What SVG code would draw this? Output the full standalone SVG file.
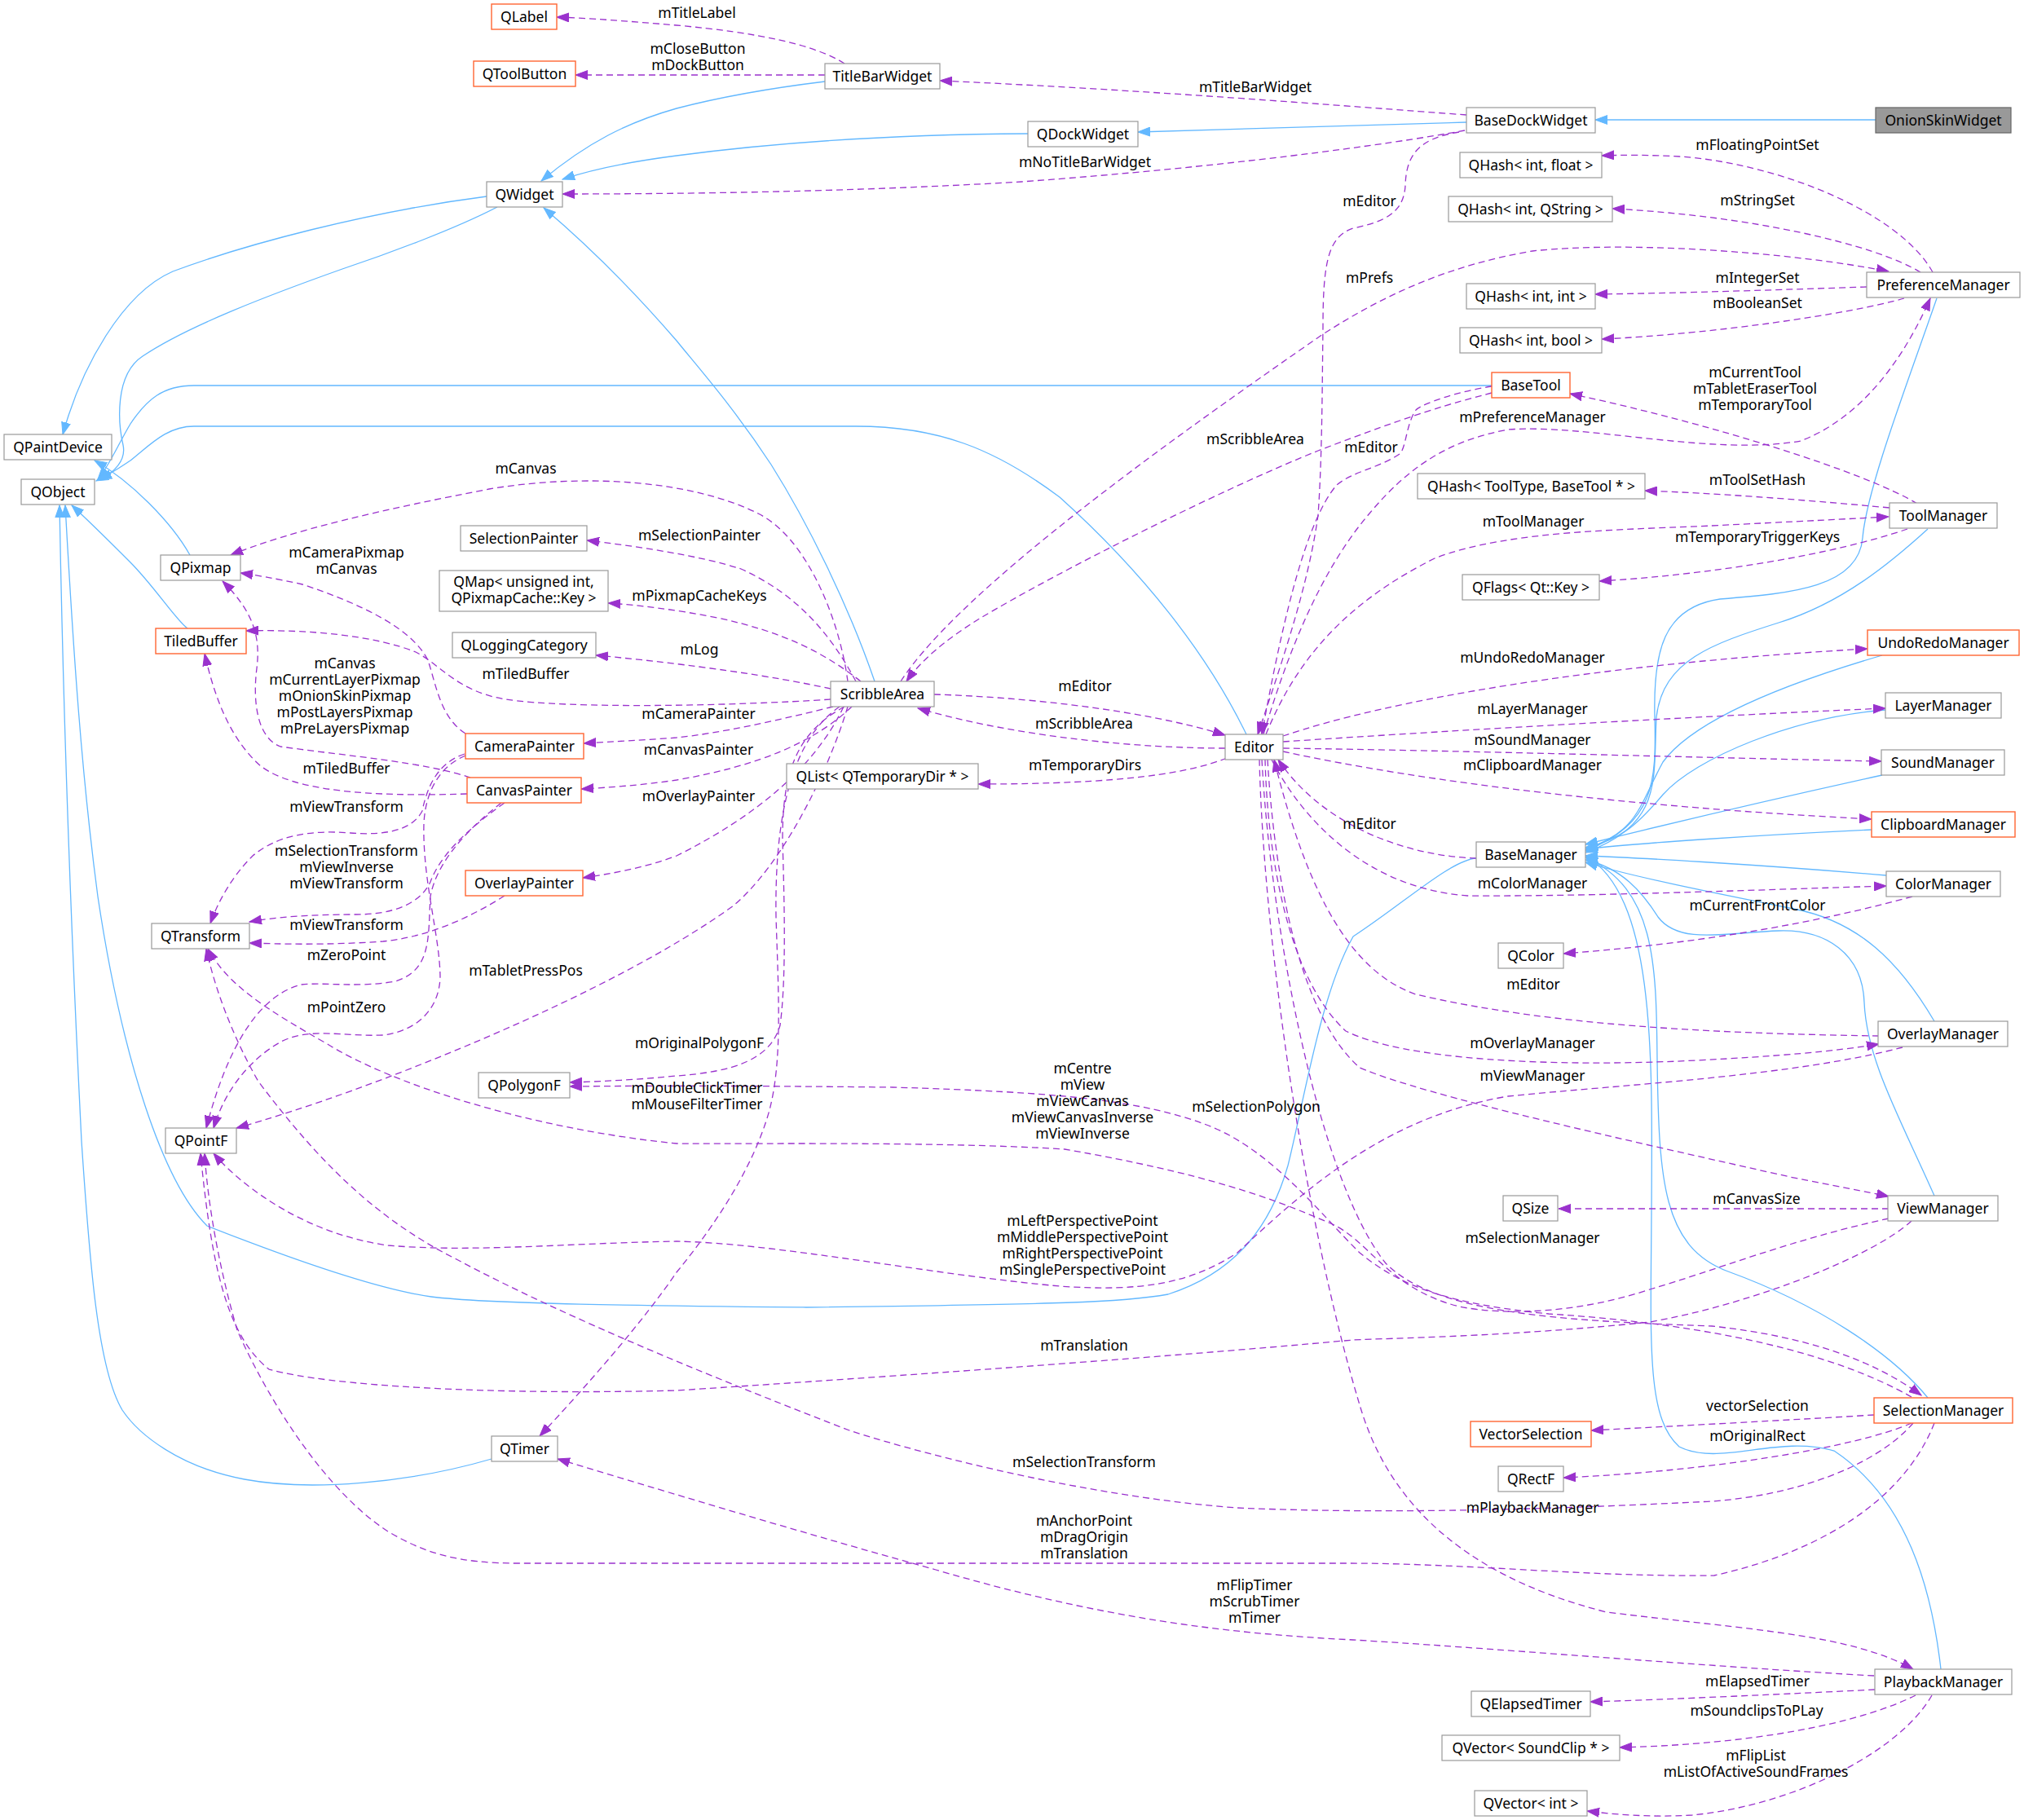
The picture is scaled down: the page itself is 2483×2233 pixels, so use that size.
<svg xmlns="http://www.w3.org/2000/svg" width="2483" height="2233" viewBox="0 0 2483 2233">
<style>
.n{fill:#fff;stroke:#999;stroke-width:1.2}
.r{fill:#fff;stroke:#ff6633;stroke-width:1.4}
.g{fill:#999;stroke:#666;stroke-width:1.2}
text{font-family:"Noto Sans","Open Sans","DejaVu Sans",sans-serif;font-size:17.5px;fill:#000;text-anchor:middle}
.e{fill:none;stroke:#9a32cd;stroke-width:1.3;stroke-dasharray:8,5;marker-end:url(#ap)}
.b{fill:none;stroke:#63b8ff;stroke-width:1.3;marker-end:url(#ab)}
</style>
<defs>
<marker id="ap" markerUnits="userSpaceOnUse" markerWidth="16" markerHeight="12" viewBox="0 0 16 12" refX="15" refY="6" orient="auto"><path d="M0,0.5 L15,6 L0,11.5 z" fill="#9a32cd" stroke="#9a32cd"/></marker>
<marker id="ab" markerUnits="userSpaceOnUse" markerWidth="16" markerHeight="12" viewBox="0 0 16 12" refX="15" refY="6" orient="auto"><path d="M0,0.5 L15,6 L0,11.5 z" fill="#63b8ff" stroke="#63b8ff"/></marker>
</defs>
<rect width="2483" height="2233" fill="#fff"/>
<g id="edges">
<!-- inheritance -->
<path class="b" d="M2301,147 L1957,147"/>
<path class="b" d="M1799,150 L1396,162"/>
<path class="b" d="M1261,164 C1100,165 950,175 830,191 C760,200 720,210 690,220"/>
<path class="b" d="M1012,100 C930,110 880,120 830,133 C770,150 720,175 664,222"/>
<path class="b" d="M597,241 C450,260 300,300 212,333 C150,360 100,450 77,533"/>
<path class="b" d="M610,254 C560,280 480,310 420,330 C330,362 230,400 175,437 C140,460 145,520 151,546 C155,565 140,580 122,588"/>
<path class="b" d="M1830,473 L238,473 C200,473 180,490 160,520 C145,545 135,570 120,588"/>
<path class="b" d="M1529,901 C1480,800 1400,700 1300,610 C1220,550 1150,523 1050,523 L238,523 C205,523 185,545 160,565 C145,575 135,582 118,590"/>
<path class="b" d="M233,681 C210,640 160,590 116,565"/>
<path class="b" d="M230,771 C215,760 190,720 159,689 C130,660 110,640 88,620"/>
<path class="b" d="M603,1790 C500,1820 380,1830 300,1815 C220,1800 170,1760 150,1730 C120,1680 110,1550 100,1400 C90,1200 78,900 73,620"/>
<path class="b" d="M1811,1053 C1780,1055 1720,1110 1660,1149 C1620,1220 1600,1350 1580,1430 C1560,1500 1520,1560 1433,1588 C1380,1598 1300,1600 989,1604 C800,1602 600,1600 529,1591 C450,1580 320,1530 254,1504 C200,1450 150,1300 120,1100 C100,950 90,800 80,620"/>
<path class="b" d="M1073,836 C1040,740 990,640 946,570 C900,500 860,455 830,418 C780,360 720,300 667,255"/>
<path class="b" d="M2376,366 C2340,470 2290,600 2285,660 C2280,720 2200,728 2110,735 C2040,745 2028,800 2030,880 C2032,960 2030,1010 1945,1044"/>
<path class="b" d="M2365,649 C2320,690 2260,740 2182,764 C2100,790 2040,810 2032,880 C2028,960 2040,1010 1945,1046"/>
<path class="b" d="M2309,804 C2200,836 2080,880 2040,935 C2010,990 2010,1020 1945,1042"/>
<path class="b" d="M2313,871 C2200,880 2080,930 2040,975 C2010,1010 1990,1030 1945,1040"/>
<path class="b" d="M2309,951 C2200,975 2050,1010 1945,1036"/>
<path class="b" d="M2296,1018 C2150,1025 2000,1035 1945,1042"/>
<path class="b" d="M2314,1074 C2150,1060 2000,1052 1945,1050"/>
<path class="b" d="M2373,1253 C2330,1180 2280,1130 2200,1115 C2100,1095 2000,1075 1945,1058"/>
<path class="b" d="M2373,1467 C2330,1370 2290,1300 2287,1230 C2285,1170 2240,1140 2182,1142 C2120,1144 2060,1160 2034,1125 C2015,1095 1990,1065 1945,1055"/>
<path class="b" d="M2365,1715 C2320,1660 2230,1600 2120,1560 C2040,1530 2035,1450 2033,1300 C2032,1180 2030,1090 1945,1052"/>
<path class="b" d="M2381,2048 C2370,1950 2340,1840 2250,1780 C2180,1760 2110,1800 2060,1775 C2020,1740 2025,1650 2026,1490 C2027,1300 2032,1100 1945,1050"/>
<!-- usage -->
<path class="e" d="M1036,78 C1000,55 930,40 830,31 C770,26 720,22 683,21"/>
<path class="e" d="M1012,92 L706,92"/>
<path class="e" d="M1799,141 C1650,130 1400,110 1153,99"/>
<path class="e" d="M1797,160 C1700,178 1500,205 1253,223 C1050,235 850,238 690,238"/>
<path class="e" d="M1790,162 C1740,170 1725,190 1724,228 C1722,260 1700,272 1660,280 C1630,290 1623,320 1623,400 C1622,480 1622,560 1617,632 C1605,720 1570,820 1543,901"/>
<path class="e" d="M2371,334 C2330,260 2180,200 2060,192 C2020,190 1990,190 1965,191"/>
<path class="e" d="M2356,334 C2300,300 2150,265 1978,256"/>
<path class="e" d="M2290,352 C2200,355 2050,360 1957,361"/>
<path class="e" d="M2336,366 C2270,385 2100,410 1965,416"/>
<path class="e" d="M1105,836 C1180,720 1450,530 1620,412 C1700,360 1780,325 1880,308 C2000,295 2200,310 2317,333"/>
<path class="e" d="M1040,836 C1030,760 990,660 930,630 C850,590 720,580 600,600 C470,625 360,650 283,681"/>
<path class="e" d="M1050,836 C1020,780 980,730 909,698 C860,682 780,670 720,663"/>
<path class="e" d="M1056,836 C1010,800 960,775 880,758 C830,748 780,742 746,740"/>
<path class="e" d="M1019,845 C950,830 850,815 731,804"/>
<path class="e" d="M1019,858 C900,866 700,870 620,858 C560,848 540,815 510,800 C460,780 380,772 302,774"/>
<path class="e" d="M1022,867 C950,885 880,900 830,905 C790,908 750,910 716,912"/>
<path class="e" d="M1045,867 C1000,910 930,940 830,957 C790,963 750,966 713,968"/>
<path class="e" d="M1035,867 C1000,940 930,1000 830,1050 C790,1065 750,1072 715,1077"/>
<path class="e" d="M1146,852 C1250,855 1400,870 1503,902"/>
<path class="e" d="M1040,867 C1015,950 960,1060 900,1111 C750,1220 450,1340 290,1384"/>
<path class="e" d="M1036,867 C975,900 960,950 960,1030 C962,1100 965,1200 957,1258 C945,1300 900,1315 830,1320 C790,1324 740,1327 699,1328"/>
<path class="e" d="M1030,867 C975,905 950,990 952,1125 C955,1220 960,1300 944,1362 C925,1430 880,1500 830,1561 C790,1620 720,1700 662,1762"/>
<path class="e" d="M1830,482 C1780,495 1737,507 1617,553 C1500,600 1300,700 1200,760 C1160,785 1130,810 1112,836"/>
<path class="e" d="M1830,474 C1790,480 1745,495 1737,503 C1725,520 1725,550 1717,557 C1690,575 1660,578 1640,595 C1600,640 1570,780 1548,901"/>
<path class="e" d="M2352,618 C2290,580 2100,520 1926,483"/>
<path class="e" d="M2318,623 C2200,612 2100,605 2018,602"/>
<path class="e" d="M2340,649 C2250,680 2100,705 1962,713"/>
<path class="e" d="M1550,901 C1580,800 1620,700 1680,630 C1730,570 1780,540 1850,527 C1950,520 2100,560 2209,541 C2290,510 2340,430 2368,366"/>
<path class="e" d="M1553,901 C1590,810 1650,740 1760,685 C1850,650 2000,650 2100,645 C2200,640 2280,636 2317,634"/>
<path class="e" d="M1503,918 C1400,918 1250,905 1126,869"/>
<path class="e" d="M1505,930 C1460,948 1380,962 1200,962"/>
<path class="e" d="M1574,903 C1700,860 1950,815 2291,796"/>
<path class="e" d="M1574,910 C1800,895 2100,878 2313,869"/>
<path class="e" d="M1574,918 C1800,921 2100,930 2308,934"/>
<path class="e" d="M1574,922 C1750,960 2000,990 2296,1005"/>
<path class="e" d="M1560,932 C1600,1010 1680,1090 1800,1099 C1950,1100 2150,1092 2314,1087"/>
<path class="e" d="M1552,932 C1555,1050 1580,1200 1651,1265 C1720,1300 1900,1310 2081,1301 C2180,1296 2250,1290 2305,1281"/>
<path class="e" d="M1555,932 C1565,1100 1600,1250 1668,1310 C1750,1345 2000,1400 2196,1444 C2250,1455 2290,1462 2317,1468"/>
<path class="e" d="M1548,932 C1560,1150 1620,1450 1700,1550 C1760,1610 1900,1620 2100,1627 C2220,1640 2300,1670 2357,1712"/>
<path class="e" d="M1545,932 C1550,1150 1600,1500 1669,1727 C1700,1830 1780,1930 1971,1978 C2150,2000 2270,2005 2347,2048"/>
<path class="e" d="M571,900 C540,880 535,840 525,810 C505,770 440,740 371,717 C340,710 310,705 295,703"/>
<path class="e" d="M577,954 C520,935 430,928 344,916 C315,905 310,860 315,820 C320,780 310,750 273,713"/>
<path class="e" d="M573,974 C450,978 360,970 320,940 C280,905 262,850 251,802"/>
<path class="e" d="M570,925 C540,935 525,960 518,995 C505,1020 470,1025 430,1022 C380,1018 340,1025 310,1050 C285,1075 268,1105 258,1133"/>
<path class="e" d="M619,985 C570,1020 540,1050 528,1082 C515,1110 480,1122 437,1122 C380,1122 340,1125 306,1131"/>
<path class="e" d="M619,1099 C570,1130 520,1150 470,1155 C400,1160 340,1158 306,1157"/>
<path class="e" d="M615,985 C570,1020 535,1060 528,1100 C525,1150 530,1190 485,1204 C440,1212 400,1205 370,1208 C320,1220 280,1280 253,1384"/>
<path class="e" d="M571,927 C540,940 522,970 520,1010 C518,1080 540,1150 540,1200 C538,1240 510,1265 470,1270 C420,1272 380,1260 345,1278 C305,1300 275,1340 262,1384"/>
<path class="e" d="M1811,1053 C1720,1050 1620,1010 1568,932"/>
<path class="e" d="M2346,1100 C2200,1140 2050,1160 1918,1170"/>
<path class="e" d="M2305,1271 C2100,1268 1900,1258 1737,1220 C1650,1190 1600,1080 1563,932"/>
<path class="e" d="M2334,1285 C2200,1320 2000,1330 1850,1345 C1700,1370 1600,1460 1518,1537 C1460,1575 1400,1585 1300,1578 C1150,1565 950,1525 830,1523 C700,1525 580,1537 476,1528 C380,1515 300,1460 262,1415"/>
<path class="e" d="M2317,1495 C2200,1520 2100,1560 2024,1582 C1940,1610 1850,1615 1790,1603 C1700,1580 1680,1520 1630,1500 C1560,1470 1480,1440 1306,1410 C1150,1400 900,1404 830,1403 C650,1385 480,1330 400,1280 C330,1240 280,1210 255,1164"/>
<path class="e" d="M2317,1483 L1912,1483"/>
<path class="e" d="M2345,1498 C2300,1540 2150,1600 2024,1622 C1850,1640 1700,1642 1660,1644 C1400,1668 1000,1695 830,1706 C600,1712 400,1700 330,1680 C280,1640 260,1560 246,1415"/>
<path class="e" d="M2345,1714 C2250,1660 2100,1625 1900,1612 C1780,1600 1720,1580 1668,1537 C1620,1490 1560,1410 1480,1380 C1400,1350 1300,1340 1095,1334 C900,1332 800,1332 699,1333"/>
<path class="e" d="M2299,1736 C2200,1742 2050,1750 1952,1755"/>
<path class="e" d="M2345,1746 C2280,1775 2100,1805 1918,1813"/>
<path class="e" d="M2347,1746 C2300,1800 2200,1835 2100,1842 C1900,1852 1700,1858 1518,1850 C1350,1838 1150,1790 1042,1755 C900,1700 700,1620 560,1545 C450,1490 380,1410 317,1327 C290,1280 265,1220 253,1164"/>
<path class="e" d="M2373,1746 C2340,1830 2250,1900 2103,1933 C1950,1935 1800,1918 1653,1918 L635,1918 C560,1918 520,1905 476,1879 C400,1830 330,1720 291,1632 C270,1560 255,1480 251,1415"/>
<path class="e" d="M2299,2056 C2100,2045 1800,2020 1660,2012 C1500,2004 1350,1985 1148,1926 C1000,1885 850,1840 684,1790"/>
<path class="e" d="M2300,2073 C2200,2078 2050,2085 1951,2088"/>
<path class="e" d="M2350,2080 C2280,2115 2150,2140 1987,2144"/>
<path class="e" d="M2370,2080 C2330,2150 2200,2215 2076,2227 C2020,2230 1980,2226 1947,2222"/>
</g>
<g id="edge-labels">
<text x="855" y="22">mTitleLabel</text>
<text x="856" y="66">mCloseButton</text>
<text x="856" y="86">mDockButton</text>
<text x="1540" y="113">mTitleBarWidget</text>
<text x="1331" y="205">mNoTitleBarWidget</text>
<text x="1680" y="253">mEditor</text>
<text x="2156" y="184">mFloatingPointSet</text>
<text x="2156" y="252">mStringSet</text>
<text x="1680" y="347">mPrefs</text>
<text x="2156" y="347">mIntegerSet</text>
<text x="2156" y="378">mBooleanSet</text>
<text x="2153" y="463">mCurrentTool</text>
<text x="2153" y="483">mTabletEraserTool</text>
<text x="2153" y="503">mTemporaryTool</text>
<text x="1880" y="518">mPreferenceManager</text>
<text x="1540" y="545">mScribbleArea</text>
<text x="1682" y="555">mEditor</text>
<text x="645" y="581">mCanvas</text>
<text x="2156" y="595">mToolSetHash</text>
<text x="1881" y="646">mToolManager</text>
<text x="2156" y="665">mTemporaryTriggerKeys</text>
<text x="858" y="663">mSelectionPainter</text>
<text x="425" y="684">mCameraPixmap</text>
<text x="425" y="704">mCanvas</text>
<text x="858" y="737">mPixmapCacheKeys</text>
<text x="858" y="803">mLog</text>
<text x="1880" y="813">mUndoRedoManager</text>
<text x="423" y="820">mCanvas</text>
<text x="423" y="840">mCurrentLayerPixmap</text>
<text x="423" y="860">mOnionSkinPixmap</text>
<text x="423" y="880">mPostLayersPixmap</text>
<text x="423" y="900">mPreLayersPixmap</text>
<text x="645" y="833">mTiledBuffer</text>
<text x="1331" y="848">mEditor</text>
<text x="1880" y="876">mLayerManager</text>
<text x="857" y="882">mCameraPainter</text>
<text x="1330" y="894">mScribbleArea</text>
<text x="1880" y="914">mSoundManager</text>
<text x="857" y="926">mCanvasPainter</text>
<text x="1331" y="945">mTemporaryDirs</text>
<text x="1880" y="945">mClipboardManager</text>
<text x="425" y="949">mTiledBuffer</text>
<text x="857" y="983">mOverlayPainter</text>
<text x="425" y="996">mViewTransform</text>
<text x="1680" y="1017">mEditor</text>
<text x="425" y="1050">mSelectionTransform</text>
<text x="425" y="1070">mViewInverse</text>
<text x="425" y="1090">mViewTransform</text>
<text x="1880" y="1090">mColorManager</text>
<text x="2156" y="1117">mCurrentFrontColor</text>
<text x="425" y="1141">mViewTransform</text>
<text x="425" y="1178">mZeroPoint</text>
<text x="645" y="1197">mTabletPressPos</text>
<text x="1881" y="1214">mEditor</text>
<text x="425" y="1242">mPointZero</text>
<text x="858" y="1286">mOriginalPolygonF</text>
<text x="1880" y="1286">mOverlayManager</text>
<text x="1328" y="1317">mCentre</text>
<text x="1328" y="1337">mView</text>
<text x="1328" y="1357">mViewCanvas</text>
<text x="1328" y="1377">mViewCanvasInverse</text>
<text x="1328" y="1397">mViewInverse</text>
<text x="1880" y="1326">mViewManager</text>
<text x="855" y="1341">mDoubleClickTimer</text>
<text x="855" y="1361">mMouseFilterTimer</text>
<text x="1541" y="1364">mSelectionPolygon</text>
<text x="2155" y="1477">mCanvasSize</text>
<text x="1328" y="1504">mLeftPerspectivePoint</text>
<text x="1328" y="1524">mMiddlePerspectivePoint</text>
<text x="1328" y="1544">mRightPerspectivePoint</text>
<text x="1328" y="1564">mSinglePerspectivePoint</text>
<text x="1880" y="1525">mSelectionManager</text>
<text x="1330" y="1657">mTranslation</text>
<text x="2156" y="1731">vectorSelection</text>
<text x="2156" y="1768">mOriginalRect</text>
<text x="1330" y="1800">mSelectionTransform</text>
<text x="1880" y="1856">mPlaybackManager</text>
<text x="1330" y="1872">mAnchorPoint</text>
<text x="1330" y="1892">mDragOrigin</text>
<text x="1330" y="1912">mTranslation</text>
<text x="1539" y="1951">mFlipTimer</text>
<text x="1539" y="1971">mScrubTimer</text>
<text x="1539" y="1991">mTimer</text>
<text x="2156" y="2069">mElapsedTimer</text>
<text x="2155" y="2105">mSoundclipsToPLay</text>
<text x="2154" y="2160">mFlipList</text>
<text x="2154" y="2180">mListOfActiveSoundFrames</text>
</g>
<g id="node-QLabel"><rect class="r" x="603" y="5" width="80" height="31"/><text x="643" y="26.5">QLabel</text></g>
<g id="node-QToolButton"><rect class="r" x="581" y="75" width="125" height="31"/><text x="643.5" y="96.5">QToolButton</text></g>
<g id="node-TitleBarWidget"><rect class="n" x="1012" y="78" width="141" height="31"/><text x="1082.5" y="99.5">TitleBarWidget</text></g>
<g id="node-QDockWidget"><rect class="n" x="1261" y="149" width="135" height="31"/><text x="1328.5" y="170.5">QDockWidget</text></g>
<g id="node-BaseDockWidget"><rect class="n" x="1799" y="132" width="158" height="31"/><text x="1878" y="153.5">BaseDockWidget</text></g>
<g id="node-OnionSkinWidget"><rect class="g" x="2301" y="132" width="166" height="31"/><text x="2384" y="153.5">OnionSkinWidget</text></g>
<g id="node-QHashIntFloat"><rect class="n" x="1791" y="187" width="174" height="31"/><text x="1878" y="208.5">QHash&lt; int, float &gt;</text></g>
<g id="node-QWidget"><rect class="n" x="597" y="223" width="93" height="31"/><text x="643.5" y="244.5">QWidget</text></g>
<g id="node-QHashIntQString"><rect class="n" x="1777" y="241" width="201" height="31"/><text x="1877.5" y="262.5">QHash&lt; int, QString &gt;</text></g>
<g id="node-PreferenceManager"><rect class="n" x="2290" y="334" width="188" height="31"/><text x="2384" y="355.5">PreferenceManager</text></g>
<g id="node-QHashIntInt"><rect class="n" x="1799" y="348" width="158" height="31"/><text x="1878" y="369.5">QHash&lt; int, int &gt;</text></g>
<g id="node-QHashIntBool"><rect class="n" x="1791" y="402" width="174" height="31"/><text x="1878" y="423.5">QHash&lt; int, bool &gt;</text></g>
<g id="node-BaseTool"><rect class="r" x="1830" y="457" width="96" height="31"/><text x="1878" y="478.5">BaseTool</text></g>
<g id="node-QPaintDevice"><rect class="n" x="5" y="533" width="132" height="31"/><text x="71" y="554.5">QPaintDevice</text></g>
<g id="node-QHashToolType"><rect class="n" x="1739" y="581" width="279" height="31"/><text x="1878.5" y="602.5">QHash&lt; ToolType, BaseTool * &gt;</text></g>
<g id="node-QObject"><rect class="n" x="26" y="588" width="90" height="31"/><text x="71" y="609.5">QObject</text></g>
<g id="node-ToolManager"><rect class="n" x="2318" y="617" width="132" height="31"/><text x="2384" y="638.5">ToolManager</text></g>
<g id="node-SelectionPainter"><rect class="n" x="565" y="645" width="155" height="31"/><text x="642.5" y="666.5">SelectionPainter</text></g>
<g id="node-QPixmap"><rect class="n" x="197" y="681" width="98" height="31"/><text x="246" y="702.5">QPixmap</text></g>
<g id="node-QMap"><rect class="n" x="539" y="700" width="207" height="50"/><text x="642.5" y="720">QMap&lt; unsigned int,</text><text x="642.5" y="740">QPixmapCache::Key &gt;</text></g>
<g id="node-QFlags"><rect class="n" x="1794" y="705" width="168" height="31"/><text x="1878" y="726.5">QFlags&lt; Qt::Key &gt;</text></g>
<g id="node-TiledBuffer"><rect class="r" x="191" y="771" width="111" height="31"/><text x="246.5" y="792.5">TiledBuffer</text></g>
<g id="node-UndoRedoManager"><rect class="r" x="2291" y="773" width="186" height="31"/><text x="2384" y="794.5">UndoRedoManager</text></g>
<g id="node-QLoggingCategory"><rect class="n" x="555" y="776" width="176" height="31"/><text x="643" y="797.5">QLoggingCategory</text></g>
<g id="node-ScribbleArea"><rect class="n" x="1019" y="836" width="127" height="31"/><text x="1082.5" y="857.5">ScribbleArea</text></g>
<g id="node-LayerManager"><rect class="n" x="2313" y="850" width="142" height="31"/><text x="2384" y="871.5">LayerManager</text></g>
<g id="node-CameraPainter"><rect class="r" x="571" y="900" width="145" height="31"/><text x="643.5" y="921.5">CameraPainter</text></g>
<g id="node-Editor"><rect class="n" x="1503" y="901" width="71" height="31"/><text x="1538.5" y="922.5">Editor</text></g>
<g id="node-SoundManager"><rect class="n" x="2308" y="920" width="151" height="31"/><text x="2383.5" y="941.5">SoundManager</text></g>
<g id="node-QList"><rect class="n" x="965" y="937" width="235" height="31"/><text x="1082.5" y="958.5">QList&lt; QTemporaryDir * &gt;</text></g>
<g id="node-CanvasPainter"><rect class="r" x="573" y="954" width="140" height="31"/><text x="643" y="975.5">CanvasPainter</text></g>
<g id="node-ClipboardManager"><rect class="r" x="2296" y="996" width="176" height="31"/><text x="2384" y="1017.5">ClipboardManager</text></g>
<g id="node-BaseManager"><rect class="n" x="1811" y="1033" width="134" height="31"/><text x="1878" y="1054.5">BaseManager</text></g>
<g id="node-OverlayPainter"><rect class="r" x="571" y="1068" width="144" height="31"/><text x="643" y="1089.5">OverlayPainter</text></g>
<g id="node-ColorManager"><rect class="n" x="2314" y="1069" width="140" height="31"/><text x="2384" y="1090.5">ColorManager</text></g>
<g id="node-QTransform"><rect class="n" x="186" y="1133" width="120" height="31"/><text x="246" y="1154.5">QTransform</text></g>
<g id="node-QColor"><rect class="n" x="1838" y="1157" width="80" height="31"/><text x="1878" y="1178.5">QColor</text></g>
<g id="node-OverlayManager"><rect class="n" x="2304" y="1253" width="159" height="31"/><text x="2383.5" y="1274.5">OverlayManager</text></g>
<g id="node-QPolygonF"><rect class="n" x="587" y="1316" width="112" height="31"/><text x="643" y="1337.5">QPolygonF</text></g>
<g id="node-QPointF"><rect class="n" x="203" y="1384" width="87" height="31"/><text x="246.5" y="1405.5">QPointF</text></g>
<g id="node-QSize"><rect class="n" x="1844" y="1467" width="67" height="31"/><text x="1877.5" y="1488.5">QSize</text></g>
<g id="node-ViewManager"><rect class="n" x="2316" y="1467" width="135" height="31"/><text x="2383.5" y="1488.5">ViewManager</text></g>
<g id="node-SelectionManager"><rect class="r" x="2299" y="1715" width="170" height="31"/><text x="2384" y="1736.5">SelectionManager</text></g>
<g id="node-VectorSelection"><rect class="r" x="1804" y="1744" width="148" height="31"/><text x="1878" y="1765.5">VectorSelection</text></g>
<g id="node-QTimer"><rect class="n" x="603" y="1762" width="81" height="31"/><text x="643.5" y="1783.5">QTimer</text></g>
<g id="node-QRectF"><rect class="n" x="1838" y="1799" width="80" height="31"/><text x="1878" y="1820.5">QRectF</text></g>
<g id="node-PlaybackManager"><rect class="n" x="2300" y="2048" width="168" height="31"/><text x="2384" y="2069.5">PlaybackManager</text></g>
<g id="node-QElapsedTimer"><rect class="n" x="1805" y="2075" width="146" height="31"/><text x="1878" y="2096.5">QElapsedTimer</text></g>
<g id="node-QVectorSoundClip"><rect class="n" x="1769" y="2129" width="218" height="31"/><text x="1878" y="2150.5">QVector&lt; SoundClip * &gt;</text></g>
<g id="node-QVectorInt"><rect class="n" x="1809" y="2197" width="138" height="31"/><text x="1878" y="2218.5">QVector&lt; int &gt;</text></g>
</svg>
